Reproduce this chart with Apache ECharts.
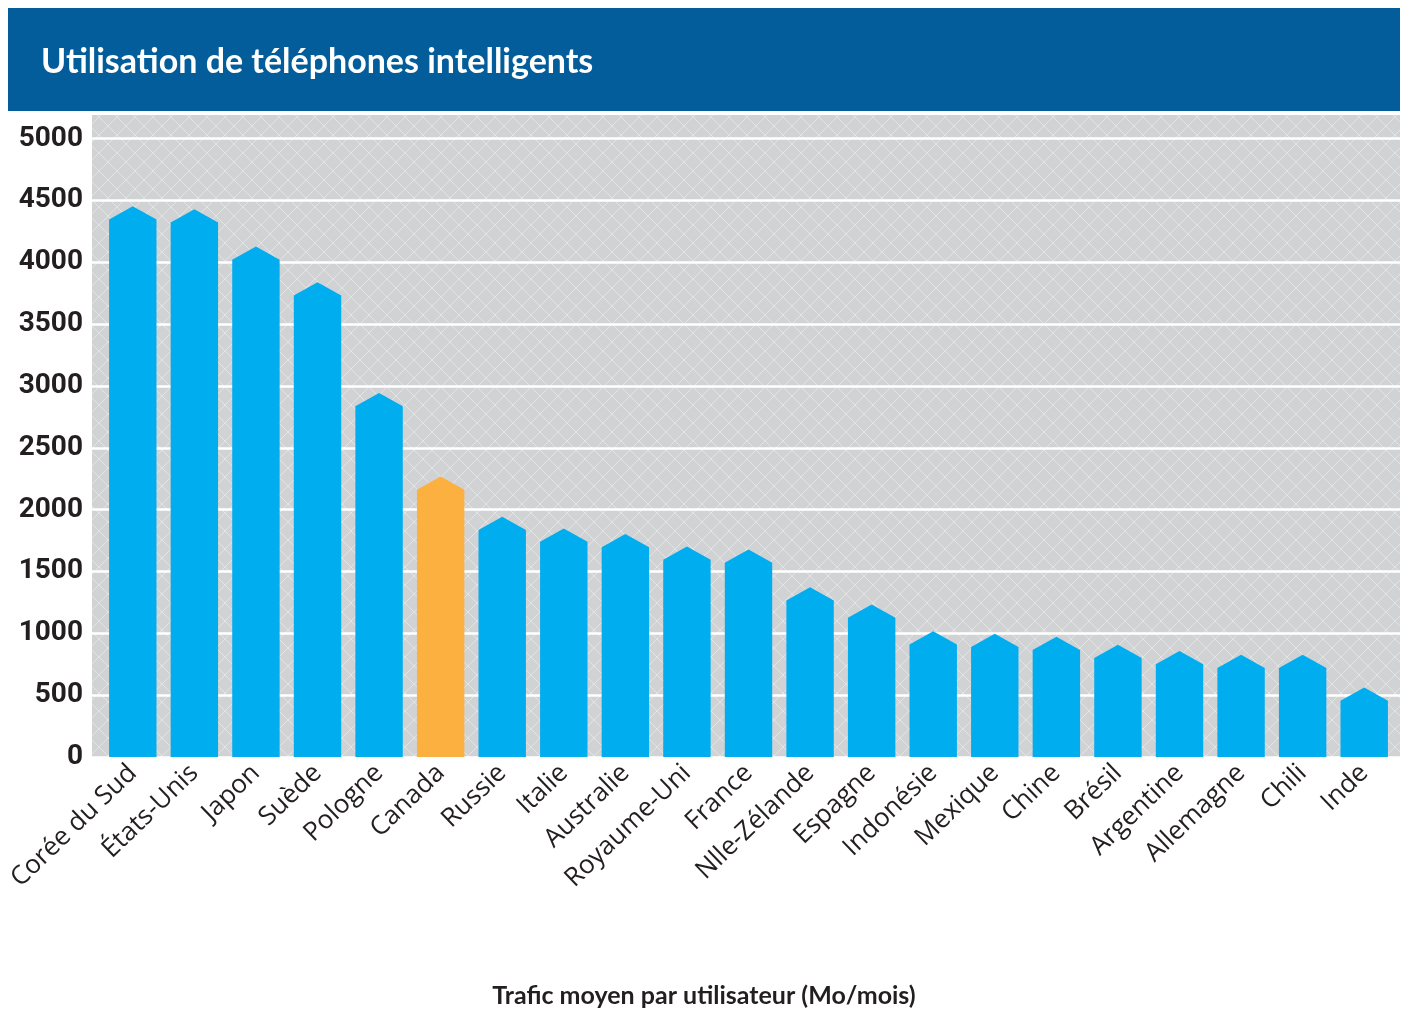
<!DOCTYPE html>
<html>
<head>
<meta charset="utf-8">
<script src="https://cdn.jsdelivr.net/npm/echarts@6/dist/echarts.min.js"></script>
<style>
  html, body { margin: 0; padding: 0; background: #fff; }
  #chart { width: 1405px; height: 1009px; }
</style>
</head>
<body>
<div id="chart"></div>
<script>
const titleText = 'Utilisation de téléphones intelligents'
const axisName = 'Trafic moyen par utilisateur (Mo/mois)'

const countries = [
  'Corée du Sud', 'États-Unis', 'Japon', 'Suède', 'Pologne', 'Canada',
  'Russie', 'Italie', 'Australie', 'Royaume-Uni', 'France', 'Nlle-Zélande',
  'Espagne', 'Indonésie', 'Mexique', 'Chine', 'Brésil', 'Argentine',
  'Allemagne', 'Chili', 'Inde'
]
const traffic = [
  4345, 4320, 4020, 3730, 2835, 2160,
  1835, 1740, 1695, 1595, 1570, 1265,
  1125, 910, 890, 865, 800, 750,
  720, 720, 455
]
const highlighted = ['Canada']
const yTicks = [0, 500, 1000, 1500, 2000, 2500, 3000, 3500, 4000, 4500, 5000]

// crosshatch background
const makePattern = () => {
  const c = document.createElement('canvas')
  c.width = 18
  c.height = 18
  const ctx = c.getContext('2d')
  ctx.fillStyle = '#d1d2d4'
  ctx.fillRect(0, 0, 18, 18)
  ctx.strokeStyle = '#e3e4e5'
  ctx.lineWidth = 1
  ctx.beginPath()
  ctx.moveTo(0, 0); ctx.lineTo(18, 18)
  ctx.moveTo(18, 0); ctx.lineTo(0, 18)
  ctx.stroke()
  return c
}

const chart = echarts.init(document.getElementById('chart'), null, { renderer: 'canvas' })

const renderBar = (params, api) => {
  const idx = api.value(0)
  const base = api.coord([idx, 0])
  const top = api.coord([idx, api.value(1)])
  const w = api.size([1, 0])[0] * 0.77
  const tip = w * 0.28
  const x = base[0]
  return {
    type: 'polygon',
    shape: {
      points: [
        [x - w / 2, base[1]],
        [x - w / 2, top[1]],
        [x, top[1] - tip],
        [x + w / 2, top[1]],
        [x + w / 2, base[1]]
      ]
    },
    style: {
      fill: highlighted.includes(countries[idx]) ? '#fbb040' : '#00adef'
    }
  }
}

const option = {
  backgroundColor: '#ffffff',
  animation: false,
  graphic: [
    {
      type: 'rect',
      shape: { x: 8, y: 8, width: 1392, height: 103 },
      style: { fill: '#035d9b' },
      z: -1
    },
    {
      type: 'text',
      x: 704,
      y: 996,
      style: {
        text: axisName,
        fill: '#231f20',
        font: 'bold 25px Lato',
        align: 'center',
        verticalAlign: 'middle'
      }
    }
  ],
  title: {
    text: titleText,
    left: 36,
    top: 40,
    textStyle: {
      color: '#ffffff',
      fontFamily: 'Lato',
      fontWeight: 'bold',
      fontSize: 34
    }
  },
  grid: [
    { left: 102, right: 10, top: 115, bottom: 252, outerBoundsMode: 'none' },
    {
      left: 92, right: 5, top: 115, bottom: 252,
      outerBoundsMode: 'none',
      show: true,
      borderWidth: 0,
      backgroundColor: { image: makePattern(), repeat: 'repeat' }
    }
  ],
  xAxis: [
    {
      type: 'category',
      gridIndex: 0,
      data: countries,
      axisLine: { show: false },
      axisTick: { show: false },
      axisLabel: {
        rotate: 44,
        margin: 12,
        interval: 0,
        color: '#231f20',
        fontFamily: 'Open Sans',
        fontSize: 26
      }
    },
    {
      type: 'value',
      gridIndex: 1,
      show: false
    }
  ],
  yAxis: [
    {
      type: 'value',
      gridIndex: 0,
      min: 0,
      max: 5190,
      show: false
    },
    {
      type: 'value',
      gridIndex: 1,
      min: 0,
      max: 5190,
      interval: 500,
      axisLine: { show: false },
      axisTick: { show: false, customValues: yTicks },
      axisLabel: {
        customValues: yTicks,
        formatter: v => String(v),
        margin: 9,
        color: '#231f20',
        fontFamily: 'Roboto',
        fontWeight: 'bold',
        fontSize: 28
      },
      splitLine: {
        lineStyle: { color: '#ffffff', width: 2.5 }
      }
    }
  ],
  series: [
    {
      type: 'custom',
      xAxisIndex: 0,
      yAxisIndex: 0,
      renderItem: renderBar,
      data: countries.map((c, i) => [i, traffic[i]]),
      z: 3
    }
  ]
}

chart.setOption(option)
</script>
</body>
</html>
